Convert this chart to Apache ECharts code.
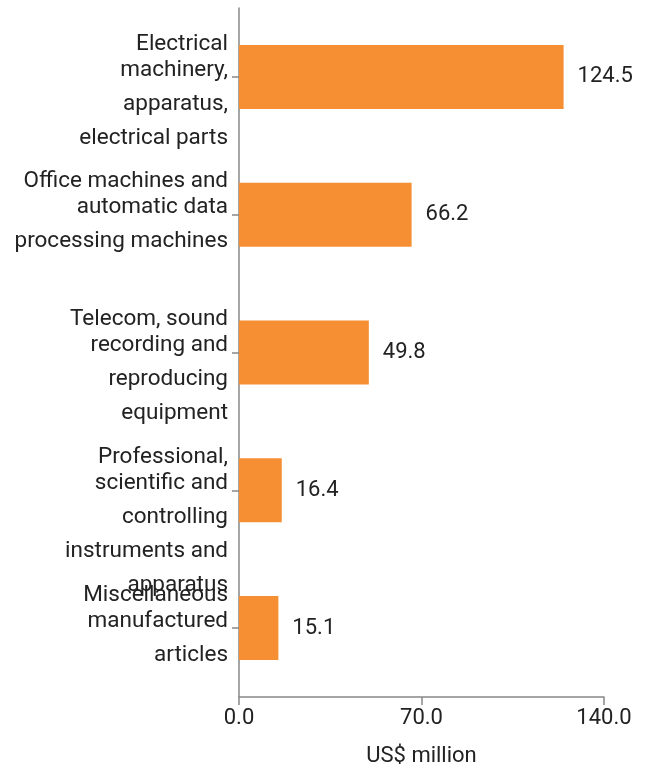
<!DOCTYPE html>
<html>
<head>
<meta charset="utf-8">
<script src="https://cdn.jsdelivr.net/npm/echarts@6/dist/echarts.min.js"></script>
<style>
  html, body { margin: 0; padding: 0; background: #ffffff; }
  #chart { width: 648px; height: 768px; }
</style>
</head>
<body>
<div id="chart"></div>
<script>
// Product groups (line breaks as they wrap on the axis)
const categories = [
  'Electrical\nmachinery,\napparatus,\nelectrical parts',
  'Office machines and\nautomatic data\nprocessing machines',
  'Telecom, sound\nrecording and\nreproducing\nequipment',
  'Professional,\nscientific and\ncontrolling\ninstruments and\napparatus',
  'Miscellaneous\nmanufactured\narticles'
];
// Values in US$ million
const values = [124.5, 66.2, 49.8, 16.4, 15.1];
const xTicks = { min: 0, max: 140, interval: 70 };
const axisName = 'US$ million';

const textColor = '#222222';
const axisColor = '#888888';
const barColor = '#F68E33';
const fontFamily = 'Roboto, "Noto Sans", sans-serif';
const catFont = 22.5;
const numFont = 22;

const chart = echarts.init(document.getElementById('chart'), null, { renderer: 'canvas' });

chart.setOption({
  animation: false,
  backgroundColor: '#ffffff',
  textStyle: { fontFamily: fontFamily },
  grid: { left: 239, right: 44, top: 8, bottom: 71, outerBoundsMode: 'none', containLabel: false },
  xAxis: {
    type: 'value',
    min: xTicks.min,
    max: xTicks.max,
    interval: xTicks.interval,
    name: axisName,
    nameLocation: 'middle',
    nameGap: 48,
    nameTextStyle: { color: textColor, fontSize: numFont, fontFamily: fontFamily },
    axisLine: { show: true, lineStyle: { color: axisColor, width: 1.5 } },
    axisTick: { show: true, length: 8, lineStyle: { color: axisColor, width: 1.5 } },
    axisLabel: {
      color: textColor, fontSize: numFont, margin: 10, fontFamily: fontFamily,
      formatter: v => v.toFixed(1)
    },
    splitLine: { show: false }
  },
  yAxis: {
    type: 'category',
    data: categories,
    inverse: true,
    axisLine: { show: true, lineStyle: { color: axisColor, width: 1.5 } },
    axisTick: { show: true, length: 7, alignWithLabel: true, lineStyle: { color: axisColor, width: 1.5 } },
    axisLabel: {
      interval: 0,
      margin: 11,
      align: 'right',
      verticalAlign: 'top',
      padding: [-42, 0, 0, 0],
      color: textColor,
      fontSize: catFont,
      fontFamily: fontFamily,
      formatter: v => v.split('\n')
        .map((s, i) => (i === 0 ? '{first|' + s + '}' : '{rest|' + s + '}'))
        .join('\n'),
      rich: {
        first: { color: textColor, fontSize: catFont, lineHeight: 18, fontFamily: fontFamily, align: 'right' },
        rest: { color: textColor, fontSize: catFont, lineHeight: 34, fontFamily: fontFamily, align: 'right' }
      }
    }
  },
  series: [{
    type: 'bar',
    data: values,
    barWidth: 64,
    itemStyle: { color: barColor },
    label: {
      show: true,
      position: 'right',
      distance: 14,
      color: textColor,
      fontSize: numFont,
      fontFamily: fontFamily,
      formatter: p => p.value.toFixed(1)
    }
  }]
});
</script>
</body>
</html>
